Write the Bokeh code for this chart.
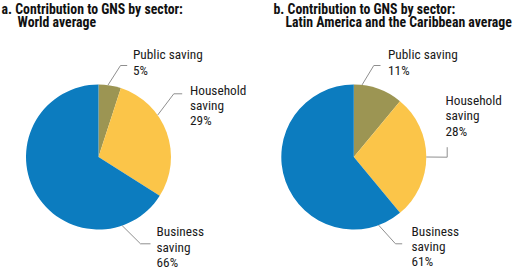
import math
from bokeh.plotting import figure
from bokeh.models import Range1d, ColumnDataSource
from bokeh.core.properties import value
from bokeh.embed import file_html
from bokeh.resources import INLINE

# ---------------- data ----------------
sectors = ["Public saving", "Household saving", "Business saving"]
world_share = [5, 29, 66]
lac_share = [11, 28, 61]
label_lines = [["Public saving"], ["Household", "saving"], ["Business", "saving"]]
title_line1 = ["a. Contribution to GNS by sector:", "b. Contribution to GNS by sector:"]
title_line2 = ["World average", "Latin America and the Caribbean average"]
colors = ["#9c9553", "#fbc549", "#0c7cbf"]

# ---------------- layout (page pixel coordinates, y measured downwards) ----------------
W, H = 518, 270
FONT = "Roboto Condensed"


def Y(yp):
    return H - yp


panels = [
    dict(
        shares=world_share,
        cx=98.0, cy=156.5, r=72.5,
        title_x=(1, 17), title_y=(8.3, 21.8),
        label_x=[132.5, 189.5, 156.0],
        label_y=[54.4, 89.8, 231.4],
        leader_angle=[7.5, 54.7, 161.0],
        leader_elbow=[(120.0, 65.0), (173.3, 93.3), (140.0, 243.3)],
        leader_end=[(126.7, 65.0), (181.7, 93.3), (150.0, 243.3)],
    ),
    dict(
        shares=lac_share,
        cx=353.3, cy=156.5, r=72.5,
        title_x=(273, 285), title_y=(8.3, 21.8),
        label_x=[387.5, 445.0, 411.0],
        label_y=[54.4, 99.9, 230.8],
        leader_angle=[6.5, 90.0, 160.0],
        leader_elbow=[(373.3, 65.0), (446.7, 156.7), (395.0, 243.3)],
        leader_end=[(380.0, 65.0), (446.7, 146.7), (401.7, 243.3)],
    ),
]

p = figure(width=W, height=H, x_range=Range1d(0, W), y_range=Range1d(0, H),
           x_axis_type=None, y_axis_type=None, toolbar_location=None,
           output_backend="svg", min_border=0, outline_line_color=None)
p.grid.visible = False
p.background_fill_color = "white"
p.border_fill_color = "white"

line_step = 15.3

for i, pan in enumerate(panels):
    shares = pan["shares"]
    total = float(sum(shares))
    cum = [0.0]
    for s in shares:
        cum.append(cum[-1] + s / total)
    starts = [math.pi / 2 - 2 * math.pi * cum[k + 1] for k in range(len(shares))]
    ends = [math.pi / 2 - 2 * math.pi * cum[k] for k in range(len(shares))]
    src = ColumnDataSource(dict(
        x=[pan["cx"]] * len(shares), y=[Y(pan["cy"])] * len(shares),
        start=starts, end=ends, color=colors, sector=sectors, share=shares))
    p.wedge(x="x", y="y", radius=pan["r"], start_angle="start", end_angle="end",
            fill_color="color", line_color=None, source=src)

    # leader lines
    xs, ys = [], []
    for k in range(len(shares)):
        a = math.radians(pan["leader_angle"][k])
        sx = pan["cx"] + pan["r"] * math.sin(a)
        sy = pan["cy"] - pan["r"] * math.cos(a)
        ex, ey = pan["leader_elbow"][k]
        fx, fy = pan["leader_end"][k]
        xs.append([sx, ex, fx])
        ys.append([Y(sy), Y(ey), Y(fy)])
    p.multi_line(xs=xs, ys=ys, line_color="#8f8f8f", line_width=1)

    # labels
    tx, ty, tt = [], [], []
    for k in range(len(shares)):
        lines = label_lines[k] + ["%d%%" % shares[k]]
        for j, ln in enumerate(lines):
            tx.append(pan["label_x"][k])
            ty.append(Y(pan["label_y"][k] + j * line_step))
            tt.append(ln)
    p.text(x=tx, y=ty, text=tt, text_font=value(FONT), text_font_size="13.3px",
           text_color="#1a1a1a", text_baseline="middle", text_align="left")

    # titles
    p.text(x=[pan["title_x"][0], pan["title_x"][1]],
           y=[Y(pan["title_y"][0]), Y(pan["title_y"][1])],
           text=[title_line1[i], title_line2[i]],
           text_font=value(FONT), text_font_size="13.8px", text_font_style="bold",
           text_color="#111111", text_baseline="middle", text_align="left")

open("out.html", "w").write(file_html(p, INLINE))
